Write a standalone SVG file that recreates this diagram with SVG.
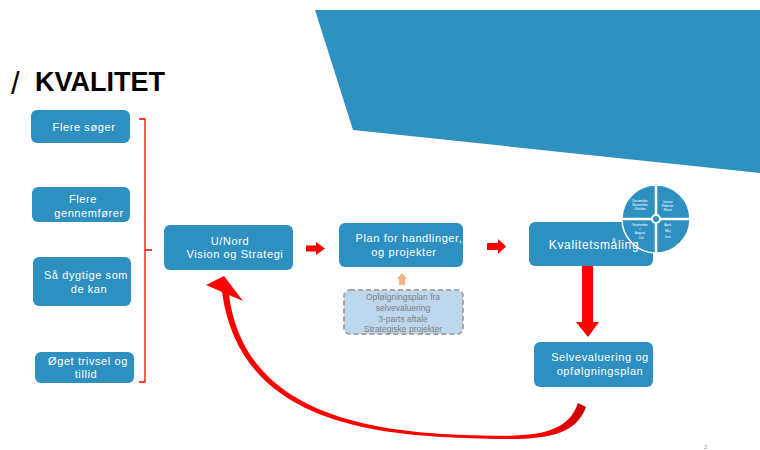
<svg xmlns="http://www.w3.org/2000/svg" width="760" height="450" viewBox="0 0 760 450">
<defs>
<style>
.box{fill:#2E90C1}
.t{font-family:"Liberation Sans",Arial,sans-serif;font-size:11px;fill:#FFFFFF;text-anchor:middle;letter-spacing:0.6px}
.tb{font-family:"Liberation Sans",Arial,sans-serif;font-size:12px;fill:#FFFFFF;text-anchor:middle;letter-spacing:0.65px}
.g{font-family:"Liberation Sans",Arial,sans-serif;font-size:8.5px;fill:#7F7F7F;text-anchor:middle}
.p{font-family:"Liberation Sans",Arial,sans-serif;font-size:3.4px;fill:#FFFFFF;text-anchor:middle}
.red{fill:#FF0000}
</style>
<linearGradient id="tail" x1="540" y1="0" x2="590" y2="0" gradientUnits="userSpaceOnUse">
<stop offset="0" stop-color="#FF0000"/>
<stop offset="1" stop-color="#C00000"/>
</linearGradient>
</defs>
<rect width="760" height="450" fill="#FFFFFF"/>
<polygon points="315,10 760,10 760,173 353,130" fill="#2E91C0"/>
<g id="title">
<text x="11" y="94" font-family="Liberation Sans,Arial,sans-serif" font-size="31" fill="#000000">/</text>
<text x="35" y="91" font-family="Liberation Sans,Arial,sans-serif" font-size="27" font-weight="bold" fill="#000000">KVALITET</text>
</g>
<g id="n1"><rect class="box" x="31" y="110" width="99" height="33" rx="6"/><text class="t" x="84" y="131">Flere søger</text></g>
<g id="n2"><rect class="box" x="32" y="187" width="98" height="35" rx="6"/><text class="t" x="83" y="203">Flere</text><text class="t" x="89" y="217">gennemfører</text></g>
<g id="n3"><rect class="box" x="33" y="257" width="98" height="49" rx="6"/><text class="t" x="86" y="279">Så dygtige som</text><text class="t" x="89" y="293">de kan</text></g>
<g id="n4"><rect class="box" x="35" y="352" width="99" height="31" rx="6"/><text class="t" x="88" y="365">Øget trivsel og</text><text class="t" x="86" y="378">tillid</text></g>
<g id="bracket"><path d="M139 119 H145 V382 H139 M145 250 H152" fill="none" stroke="#FF0000" stroke-width="1.3"/></g>
<g id="n5"><rect class="box" x="164" y="225" width="129" height="45" rx="6"/><text class="t" x="230" y="245">U/Nord</text><text class="t" x="235" y="258">Vision og Strategi</text></g>
<g id="n6"><rect class="box" x="339" y="223" width="124" height="44" rx="6"/><text class="t" x="409" y="242">Plan for handlinger,</text><text class="t" x="404" y="256">og projekter</text></g>
<g id="n7"><rect x="344" y="290" width="119" height="44" rx="6" fill="#BDD7EE" stroke="#A6A6A6" stroke-width="2" stroke-dasharray="5 3"/>
<text class="g" x="403" y="300">Opfølgningsplan fra</text><text class="g" x="403" y="311">selvevaluering</text><text class="g" x="403" y="321.5">3-parts aftale</text><text class="g" x="403" y="332">Strategiske projekter</text></g>
<g id="n8"><rect class="box" x="529" y="222" width="124" height="44" rx="6"/>
<g id="pie">
<circle cx="656" cy="219" r="34" fill="#2E90C1" stroke="#FFFFFF" stroke-width="1.5"/>
<path d="M656 185 V253 M622 219 H690" stroke="#FFFFFF" stroke-width="2.5"/>
<circle cx="656" cy="219" r="4" fill="#2E90C1" stroke="#FFFFFF" stroke-width="2"/>
<text class="p" x="640" y="201.5">December</text><text class="p" x="640" y="205.8">November</text><text class="p" x="640" y="210.2">Oktober</text>
<text class="p" x="667.7" y="202.5">Januar</text><text class="p" x="667.7" y="206.5">Februar</text><text class="p" x="667.7" y="210.5">Marts</text>
<text class="p" x="640" y="226">Septembe</text><text class="p" x="640" y="230.2">r</text><text class="p" x="640" y="234.4">August</text><text class="p" x="641" y="238.6">Juli</text>
<text class="p" x="667.7" y="225.8">April</text><text class="p" x="667.7" y="231.5">Maj</text><text class="p" x="667.7" y="238">Juni</text>
</g>
<text class="tb" x="594" y="248.5">Kvalitetsmåling</text></g>
<g id="n9"><rect class="box" x="534" y="342" width="119" height="45" rx="6"/><text class="t" x="600" y="361">Selvevaluering og</text><text class="t" x="600" y="375">opfølgningsplan</text></g>
<g id="connectors">
<polygon class="red" points="306,245.5 316,245.5 316,242 325,248.5 316,255 316,251.5 306,251.5"/>
<polygon class="red" points="487,243 498,243 498,239 506,246.5 498,254 498,250 487,250"/>
<polygon fill="#F4B183" points="399,285 399,279 397,279 402,273 407,279 405,279 405,285"/>
<polygon class="red" points="582,266 593,266 593,322 599,322 588,337 576,322 582,322"/>
<path fill="url(#tail)" d="M586 407 C575 437 543 441 480 438.5 C375 436 240 424 222 292 L206 285 L224 276 L243 301 L229 295 C245 418 378 433 480 435.5 C540 437.5 568 432 578 403 Z"/>
</g>
<text x="704" y="449" font-family="Liberation Sans,Arial,sans-serif" font-size="6" fill="#999999">2</text>
</svg>
